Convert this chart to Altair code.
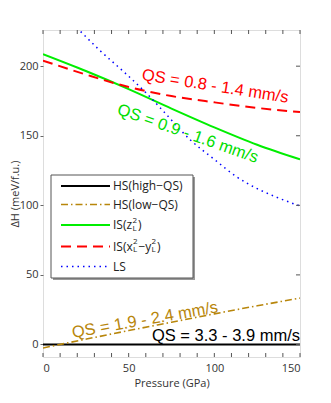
import altair as alt
import pandas as pd

# ---- data ----
P_HS = [0, 150]
HS_high = [0, 0]
P_grid = [0, 25, 50, 75, 100, 125, 150]
HS_low = [-2.5, 3.8, 10, 16, 22, 27.8, 33.3]
IS_z2 = [208.6, 196.5, 183.5, 169.5, 156, 143.5, 133]
IS_x2y2 = [204, 194, 185, 178.5, 174, 170, 167]
P_LS = [15, 21, 33, 48, 60, 70, 86, 100, 113, 125, 136, 150]
LS = [233, 226, 211.5, 195, 181, 168, 147, 133, 120.5, 112, 106, 99.5]

x_ticks = list(range(0, 151, 10))
y_ticks = [0, 50, 100, 150, 200]

ann_text = ["QS = 0.8 - 1.4 mm/s", "QS = 0.9 - 1.6 mm/s", "QS = 1.9 - 2.4 mm/s", "QS = 3.3 - 3.9 mm/s"]
ann_P = [100.5, 84.5, 59.5, 150]
ann_v = [185.5, 151.5, 17.5, 1.5]

W, H = 257, 327
FONT = "Open Sans"
ANN_FONT = "Liberation Sans"

xs = alt.Scale(domain=[0, 150], nice=False, zero=False)
ys = alt.Scale(domain=[-9, 226], nice=False, zero=False)


def line_layer(px, vals, color, width, dash=None):
    df = pd.DataFrame({"P": px, "v": vals})
    kw = dict(color=color, strokeWidth=width, clip=True, interpolate="monotone")
    if dash:
        kw["strokeDash"] = dash
    return alt.Chart(df).mark_line(**kw).encode(
        x=alt.X("P:Q", scale=xs, axis=alt.Axis(values=[0, 50, 100, 150], ticks=False, domain=False, grid=False,
                                               labelFont=FONT, labelFontSize=11, labelColor="#333", labelPadding=5,
                                               title="Pressure (GPa)", titleFont=FONT, titleFontSize=11,
                                               titleFontWeight="normal", titleColor="#333", titlePadding=4)),
        y=alt.Y("v:Q", scale=ys, axis=alt.Axis(values=y_ticks, ticks=True, tickSize=3, tickColor="#666", domain=False,
                                               grid=False, labelFont=FONT, labelFontSize=11, labelColor="#333",
                                               labelPadding=2, title="ΔH (meV/f.u.)", titleFont=FONT,
                                               titleFontSize=11, titleFontWeight="normal", titleColor="#333",
                                               titlePadding=-1)),
    )


GOLD = "#B8860B"
layers = [
    line_layer(P_HS, HS_high, "#000000", 2),
    line_layer(P_grid, HS_low, GOLD, 1.6, [7, 3, 1.5, 3]),
    line_layer(P_grid, IS_z2, "#00EE00", 2),
    line_layer(P_grid, IS_x2y2, "#FF0000", 2, [10, 6]),
    line_layer(P_LS, LS, "#0000FF", 1.5, [1.5, 4]),
]

# annotations
ann_colors = ["#FF0000", "#00DD00", GOLD, "#000000"]
ann_angle = [9, 19.5, 350, 0]
for i in range(4):
    df = pd.DataFrame({"P": [ann_P[i]], "v": [ann_v[i]], "t": [ann_text[i]]})
    if i == 3:
        mk = alt.Chart(df).mark_text(font=ANN_FONT, fontSize=16.5, color=ann_colors[i], align="right",
                                     baseline="alphabetic", dy=-1)
    else:
        mk = alt.Chart(df).mark_text(font=ANN_FONT, fontSize=16.5, color=ann_colors[i], align="center",
                                     baseline="middle", angle=ann_angle[i])
    layers.append(mk.encode(x=alt.X("P:Q", scale=xs), y=alt.Y("v:Q", scale=ys), text="t:N"))

# inward ticks: bottom, top, right
dfx = pd.DataFrame({"P": x_ticks})
layers.append(alt.Chart(dfx).mark_rule(color="#555", strokeWidth=1).encode(
    x=alt.X("P:Q", scale=xs), y=alt.value(H), y2=alt.value(H - 4)))
layers.append(alt.Chart(dfx).mark_rule(color="#555", strokeWidth=1).encode(
    x=alt.X("P:Q", scale=xs), y=alt.value(0), y2=alt.value(4)))
dfy = pd.DataFrame({"v": y_ticks})
layers.append(alt.Chart(dfy).mark_rule(color="#555", strokeWidth=1).encode(
    y=alt.Y("v:Q", scale=ys), x=alt.value(W), x2=alt.value(W - 4)))

# legend box
one = pd.DataFrame({"a": [0]})
LX0, LX1, LY0, LY1 = 8, 150, 145, 248
layers.append(alt.Chart(one).mark_rect(color="#999").encode(
    x=alt.value(LX0 + 2), x2=alt.value(LX1 + 2), y=alt.value(LY0 + 2), y2=alt.value(LY1 + 2)))
layers.append(alt.Chart(one).mark_rect(fill="white", stroke="#555", strokeWidth=1).encode(
    x=alt.value(LX0), x2=alt.value(LX1), y=alt.value(LY0), y2=alt.value(LY1)))

leg_y = [156, 174.5, 195, 216.5, 236.5]
leg_col = ["#000000", GOLD, "#00EE00", "#FF0000", "#0000FF"]
leg_w = [2, 1.6, 2, 2, 1.5]
leg_dash = [None, [7, 3, 1.5, 3], None, [10, 6], [1.5, 4]]
for i in range(5):
    kw = dict(color=leg_col[i], strokeWidth=leg_w[i])
    if leg_dash[i]:
        kw["strokeDash"] = leg_dash[i]
    layers.append(alt.Chart(one).mark_rule(**kw).encode(
        x=alt.value(18), x2=alt.value(67), y=alt.value(leg_y[i])))

TX = 70
# (text, x offset, y offset, size, row)
leg_pieces = [
    ("HS(high\u2212QS)", 0, 0, 12, 0),
    ("HS(low\u2212QS)", 0, 0, 12, 1),
    ("IS(z", 0, 0, 12, 2), ("2", 19.5, -4.5, 8, 2), ("L", 19.5, 3.5, 8, 2), (")", 25, 0, 12, 2),
    ("IS(x", 0, 0, 12, 3), ("2", 20, -4.5, 8, 3), ("L", 20, 3.5, 8, 3), ("\u2212y", 25.5, 0, 12, 3),
    ("2", 38.5, -4.5, 8, 3), ("L", 38.5, 3.5, 8, 3), (")", 44, 0, 12, 3),
    ("LS", 0, 0, 12, 4),
]
for t, dx, dy, sz, row in leg_pieces:
    df = pd.DataFrame({"t": [t]})
    layers.append(alt.Chart(df).mark_text(font=FONT, fontSize=sz, color="#222", align="left",
                                          baseline="middle").encode(
        x=alt.value(TX + dx), y=alt.value(leg_y[row] + dy), text="t:N"))

chart = alt.layer(*layers).properties(
    width=W, height=H,
    autosize=alt.AutoSizeParams(type="none"),
    padding={"left": 35, "top": 22, "right": 23, "bottom": 38},
).configure_view(stroke="#888", strokeWidth=1).configure(background="white")

chart.save("out.html", embed_options={"renderer": "svg", "actions": False})
